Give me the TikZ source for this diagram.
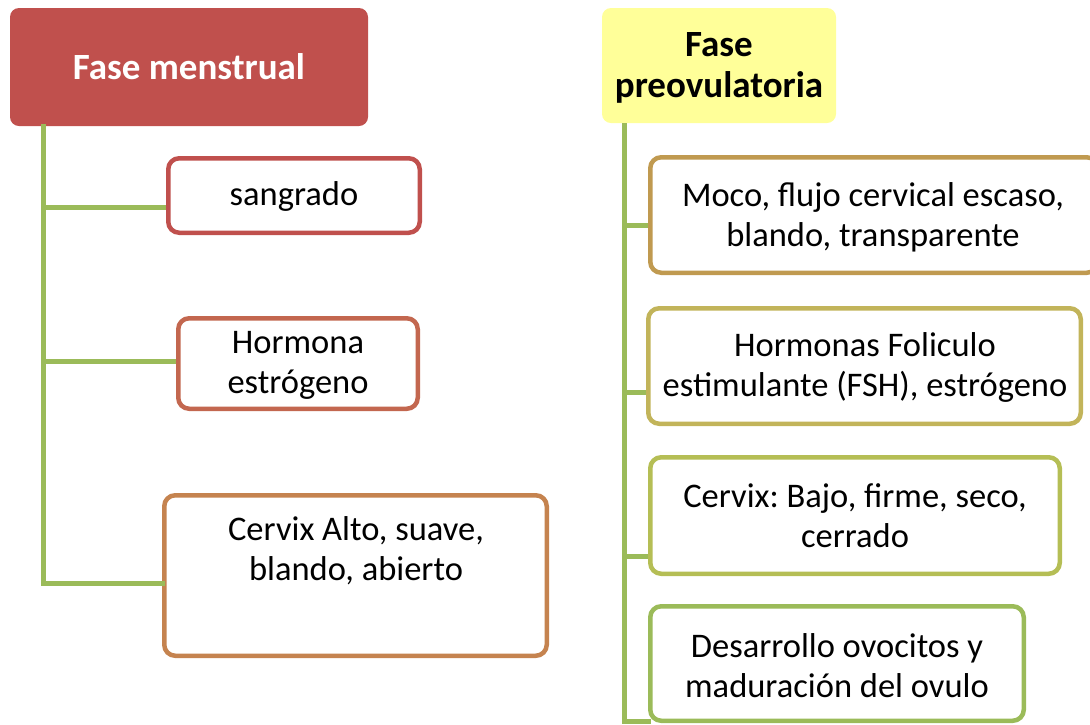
\documentclass[tikz,border=0pt]{standalone}
\usepackage{fontspec}
\setmainfont{Carlito}
\usetikzlibrary{calc}
\frenchspacing
\definecolor{redA}{HTML}{C0504D}
\definecolor{yelA}{HTML}{FFFF99}
\definecolor{grnA}{HTML}{9BBB59}
\definecolor{bL2}{HTML}{C3674F}
\definecolor{bL3}{HTML}{C5834F}
\definecolor{bR1}{HTML}{C09A50}
\definecolor{bR2}{HTML}{C2B45A}
\definecolor{bR3}{HTML}{B5BE55}
\tikzset{
  titlebox/.style={rectangle, rounded corners=9pt, inner sep=0pt, align=center, font=\fontsize{37}{41}\selectfont\bfseries\frenchspacing},
  itembox/.style={rectangle, rounded corners=11pt, draw, line width=4.5pt, fill=white, inner sep=0pt},
  itemtext/.style={align=center, inner sep=0pt, font=\fontsize{34.5}{40}\selectfont\frenchspacing},
  conn/.style={draw=grnA, line width=5pt},
}
\begin{document}
\begin{tikzpicture}[x=1pt,y=-1pt]
\useasboundingbox (0,0) rectangle (1090,724);
\clip (0,0) rectangle (1090,724);
% titles
\node[titlebox, fill=redA, text=white, minimum width=358pt, minimum height=118pt] (t1) at (189,67) {Fase menstrual};
\node[titlebox, fill=yelA, text=black, minimum width=234pt, minimum height=115pt] (t2) at (719,65.5) {};
\node[titlebox, text=black] (t2t) at (719,67.5) {Fase\\preovulatoria};
% spine coordinates
\coordinate (s1top) at (43,126);
\coordinate (s1bot) at (43,583);
\coordinate (s2top) at (624,123);
\coordinate (s2bot) at (624,721);
% left boxes
\node[itembox, draw=redA, minimum width=251.5pt, minimum height=74.5pt] (l1) at (294,195.5) {};
\node[itembox, draw=bL2, minimum width=239.5pt, minimum height=90.5pt] (l2) at (298,363.5) {};
\node[itembox, draw=bL3, minimum width=382.5pt, minimum height=160.5pt] (l3) at (355.5,575.5) {};
% right boxes
\node[itembox, draw=bR1, minimum width=447.5pt, minimum height=115.5pt] (r1) at (874,215) {};
\node[itembox, draw=bR2, minimum width=432.5pt, minimum height=115.5pt] (r2) at (864.5,366) {};
\node[itembox, draw=bR3, minimum width=409.5pt, minimum height=116.5pt] (r3) at (855,515.5) {};
\node[itembox, draw=grnA, minimum width=373.5pt, minimum height=114.5pt] (r4) at (837,663.5) {};
% connectors
\draw[conn, line cap=rect] (s1top) -- (s1bot);
\draw[conn] (s1top |- 0,207) -- (l1.west |- 0,207);
\draw[conn] (s1top |- 0,361) -- (l2.west |- 0,361);
\draw[conn, line cap=rect] (s1bot) -- (l3.west |- s1bot);
\draw[conn] (s2top) -- (s2bot);
\draw[conn] (s2top |- 0,225) -- (r1.west |- 0,225);
\draw[conn] (s2top |- 0,392) -- (r2.west |- 0,392);
\draw[conn] (s2top |- 0,556) -- (r3.west |- 0,556);
\draw[conn, line cap=rect] (s2bot) -- (r4.west |- s2bot);
% texts
\node[itemtext] (l1t) at (294,196) {sangrado};
\node[itemtext] (l2t) at (298,365) {Hormona\\estrógeno};
\node[itemtext] (l3t) at (356,551) {Cervix Alto, suave,\\blando, abierto};
\node[itemtext] (r1t) at (873,217) {Moco, flujo cervical escaso,\\blando, transparente};
\node[itemtext] (r2t) at (865,367) {Hormonas Foliculo\\estimulante (FSH), estrógeno};
\node[itemtext] (r3t) at (855,516) {Cervix: Bajo, firme, seco,\\cerrado};
\node[itemtext] (r4t) at (837,666) {Desarrollo ovocitos y\\maduración del ovulo};
\end{tikzpicture}
\end{document}
